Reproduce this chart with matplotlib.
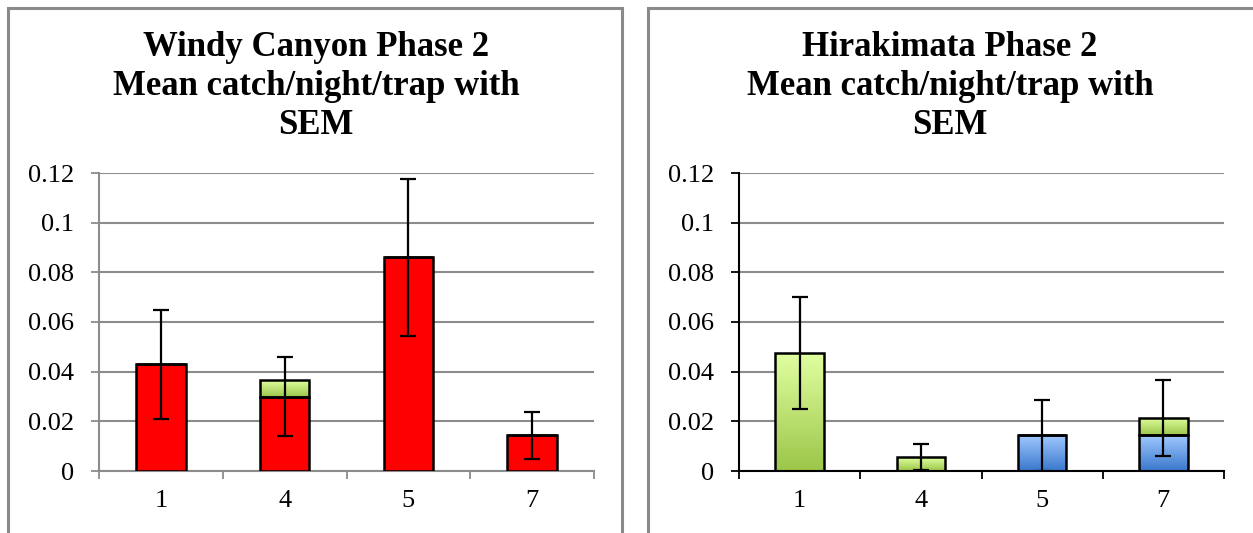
import matplotlib.pyplot as plt
import matplotlib.colors as mcolors
from matplotlib.patches import Rectangle
import numpy as np

plt.rcParams['font.family'] = ['Liberation Serif', 'DejaVu Serif']

categories = ['1', '4', '5', '7']

# Windy Canyon phase 2
wc_red = [0.043, 0.030, 0.086, 0.0143]
wc_green = [0.0, 0.0065, 0.0, 0.0]
wc_err_mid = [0.043, 0.030, 0.086, 0.0143]
wc_sem = [0.022, 0.016, 0.0315, 0.0095]

# Hirakimata phase 2
hk_blue = [0.0, 0.0, 0.0143, 0.0143]
hk_green = [0.0476, 0.0055, 0.0, 0.0071]
hk_err_mid = [0.0476, 0.0055, 0.0143, 0.0214]
hk_sem = [0.0225, 0.0052, 0.0143, 0.0153]

title_wc = 'Windy Canyon Phase 2\nMean catch/night/trap with\nSEM'
title_hk = 'Hirakimata Phase 2\nMean catch/night/trap with\nSEM'

green_grad = ('#e0ffa0', '#9cc64a')
blue_grad = ('#a0c8ff', '#3a78cc')

W, H = 1253, 533
fig = plt.figure(figsize=(W / 100, H / 100), dpi=100)

# chart frames
fig.patches.append(Rectangle((8 / W, -0.1), 614 / W, 1.1 - 8 / H, transform=fig.transFigure,
                             fill=False, edgecolor='#8a8a8a', lw=2.2))
fig.patches.append(Rectangle((648 / W, -0.1), 700 / W, 1.1 - 8 / H, transform=fig.transFigure,
                             fill=False, edgecolor='#8a8a8a', lw=2.2))


def gradient_bars(ax, x, heights, bottoms, cols):
    bars = ax.bar(x, heights, 0.4, bottom=bottoms, color='none', edgecolor='black', lw=1.8, zorder=3)
    cmap = mcolors.LinearSegmentedColormap.from_list('g', [cols[1], cols[0]])
    grad = np.linspace(0, 1, 64).reshape(-1, 1)
    for b in bars:
        if b.get_height() <= 0:
            continue
        x0, y0 = b.get_x(), b.get_y()
        im = ax.imshow(grad, cmap=cmap, origin='lower', aspect='auto',
                       extent=(x0, x0 + b.get_width(), y0, y0 + b.get_height()), zorder=2)
        im.set_clip_path(b)
    return bars


def setup(ax, spine_col, title, tx):
    ax.set_xlim(-0.5, 3.5)
    ax.set_ylim(0, 0.12)
    ax.set_yticks(np.arange(0, 0.121, 0.02))
    ax.set_yticklabels(['0', '0.02', '0.04', '0.06', '0.08', '0.1', '0.12'])
    ax.set_xticks(range(4))
    ax.set_xticklabels(categories)
    ax.set_xticks(np.arange(-0.5, 4, 1), minor=True)
    ax.tick_params(axis='x', which='major', length=0, pad=14, labelsize=19)
    ax.tick_params(axis='x', which='minor', length=6, width=1.3, color=spine_col, direction='out')
    ax.tick_params(axis='y', length=6, width=1.3, color=spine_col, pad=12, labelsize=19)
    ax.grid(axis='y', color='#8c8c8c', lw=1.5, zorder=0)
    for s in ['top', 'right']:
        ax.spines[s].set_visible(False)
    for s in ['left', 'bottom']:
        ax.spines[s].set_color(spine_col)
        ax.spines[s].set_linewidth(1.5)
    ax.set_axisbelow(True)
    fig.text(tx, 1 - 87 / H, title, ha='center', va='center', fontsize=25,
             fontweight='bold', linespacing=1.24)


x = np.arange(4)

ax1 = fig.add_axes([99 / W, 1 - 471 / H, 495 / W, 298 / H])
setup(ax1, '#8c8c8c', title_wc, 316 / W)
ax1.bar(x, wc_red, 0.4, color='#ff0000', edgecolor='black', lw=1.8, zorder=3)
gradient_bars(ax1, x, wc_green, wc_red, green_grad)
ax1.errorbar(x, wc_err_mid, yerr=wc_sem, fmt='none', ecolor='black', elinewidth=1.6,
             capsize=6, capthick=1.6, zorder=4)

ax2 = fig.add_axes([739 / W, 1 - 471 / H, 485 / W, 298 / H])
setup(ax2, '#000000', title_hk, 950 / W)
gradient_bars(ax2, x, hk_blue, [0] * 4, blue_grad)
gradient_bars(ax2, x, hk_green, hk_blue, green_grad)
ax2.errorbar(x, hk_err_mid, yerr=hk_sem, fmt='none', ecolor='black', elinewidth=1.6,
             capsize=6, capthick=1.6, zorder=4)

fig.savefig('out.png', dpi=100)
